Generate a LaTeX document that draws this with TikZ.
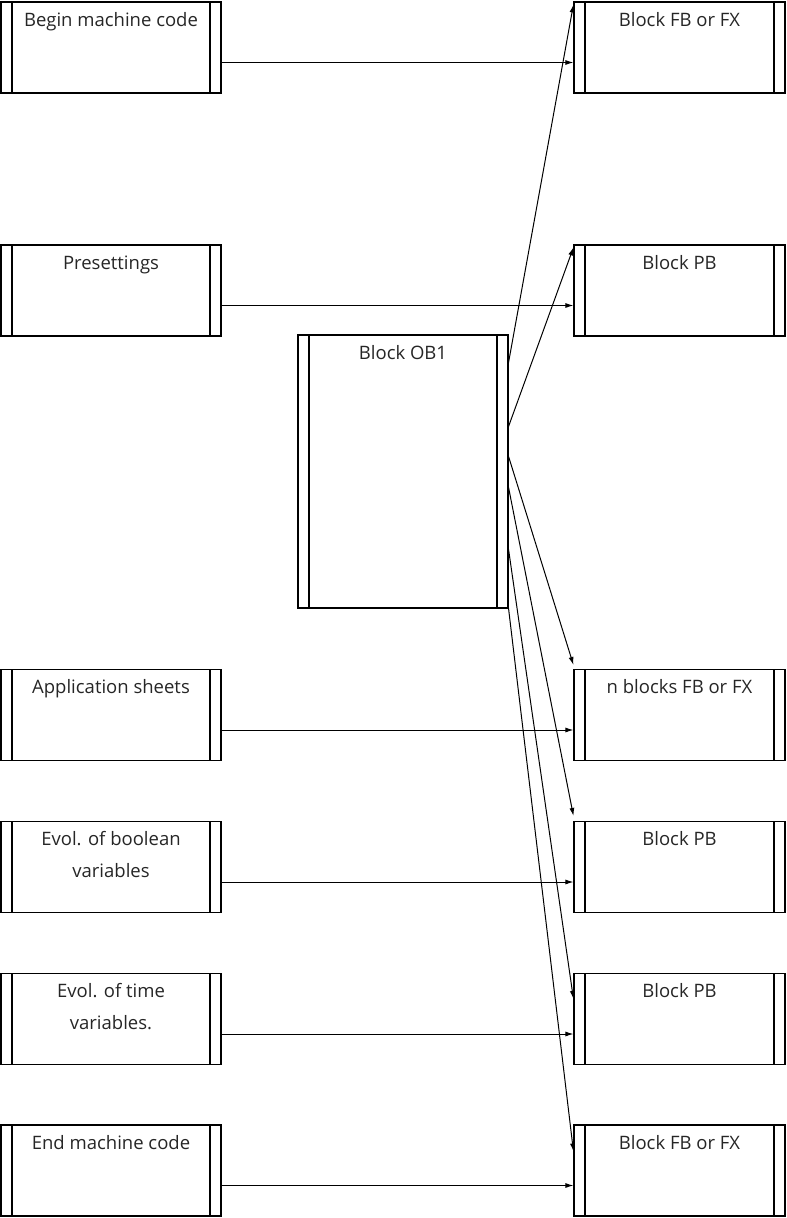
\documentclass[tikz,border=0pt]{standalone}
\usepackage{fontspec}
\setmainfont{Open Sans}
\usetikzlibrary{arrows.meta}
\begin{document}
\begin{tikzpicture}[x=1pt,y=-1pt,
  proc/.style={draw,line width=1.1pt,rectangle,inner sep=0pt,
    path picture={
      \draw[line width=1.1pt] ([xshift=11pt]path picture bounding box.north west) -- ([xshift=11pt]path picture bounding box.south west);
      \draw[line width=1.1pt] ([xshift=-11pt]path picture bounding box.north east) -- ([xshift=-11pt]path picture bounding box.south east);
    }},
  lbox/.style={proc,minimum width=220pt,minimum height=91pt},
  rbox/.style={proc,minimum width=211pt,minimum height=91pt},
  txt/.style={anchor=base,align=center,inner sep=0pt,font=\fontsize{18.5}{32}\selectfont,text=black!85},
  arr/.style={line width=1pt,-{Latex[length=8pt,width=5pt]}}
]
\useasboundingbox (0,0) rectangle (787,1218);
% left boxes
\node[lbox] (b1) at (111,47.5) {};
\node[lbox] (b2) at (111,290.5) {};
\node[lbox] (b3) at (111,715) {};
\node[lbox] (b4) at (111,867) {};
\node[lbox] (b5) at (111,1019) {};
\node[lbox] (b6) at (111,1170.5) {};
% right boxes
\node[rbox] (f1) at (679.5,47.5) {};
\node[rbox] (f2) at (679.5,290.5) {};
\node[rbox] (f3) at (679.5,715) {};
\node[rbox] (f4) at (679.5,867) {};
\node[rbox] (f5) at (679.5,1019) {};
\node[rbox] (f6) at (679.5,1170.5) {};
% center box
\node[proc,minimum width=210pt,minimum height=273pt] (ob) at (403,471.5) {};
% texts
\node[txt] (t1) at ([yshift=-25pt]b1.north) {Begin machine code};
\node[txt] (t2) at ([yshift=-25pt]b2.north) {Presettings};
\node[txt] (t3) at ([yshift=-25pt]b3.north) {Application sheets};
\node[txt] (t4) at ([yshift=-57pt]b4.north) {Evol. of boolean\\variables};
\node[txt] (t5) at ([yshift=-57pt]b5.north) {Evol. of time\\variables.};
\node[txt] (t6) at ([yshift=-25pt]b6.north) {End machine code};
\node[txt] (u1) at ([yshift=-25pt]f1.north) {Block FB or FX};
\node[txt] (u2) at ([yshift=-25pt]f2.north) {Block PB};
\node[txt] (u3) at ([yshift=-25pt]f3.north) {n blocks FB or FX};
\node[txt] (u4) at ([yshift=-25pt]f4.north) {Block PB};
\node[txt] (u5) at ([yshift=-25pt]f5.north) {Block PB};
\node[txt] (u6) at ([yshift=-25pt]f6.north) {Block FB or FX};
\node[txt] (uo) at ([yshift=-25pt]ob.north) {Block OB1};
% horizontal arrows
\foreach \i in {1,...,6}{
  \draw[arr] ([yshift=-15pt]b\i.east) -- ([yshift=-15pt]f\i.west);
}
% fan arrows from OB1
\draw[arr] ([yshift=-28pt]ob.north east) -- ([yshift=-3pt]f1.north west);
\draw[arr] ([yshift=-92pt]ob.north east) -- ([yshift=-3pt]f2.north west);
\draw[arr] ([yshift=-122pt]ob.north east) -- ([yshift=4pt]f3.north west);
\draw[arr] ([yshift=-153pt]ob.north east) -- ([yshift=5pt]f4.north west);
\draw[arr] ([yshift=-215pt]ob.north east) -- ([yshift=-26pt]f5.north west);
\draw[arr] (ob.south east) -- ([yshift=-27pt]f6.north west);
\end{tikzpicture}
\end{document}
